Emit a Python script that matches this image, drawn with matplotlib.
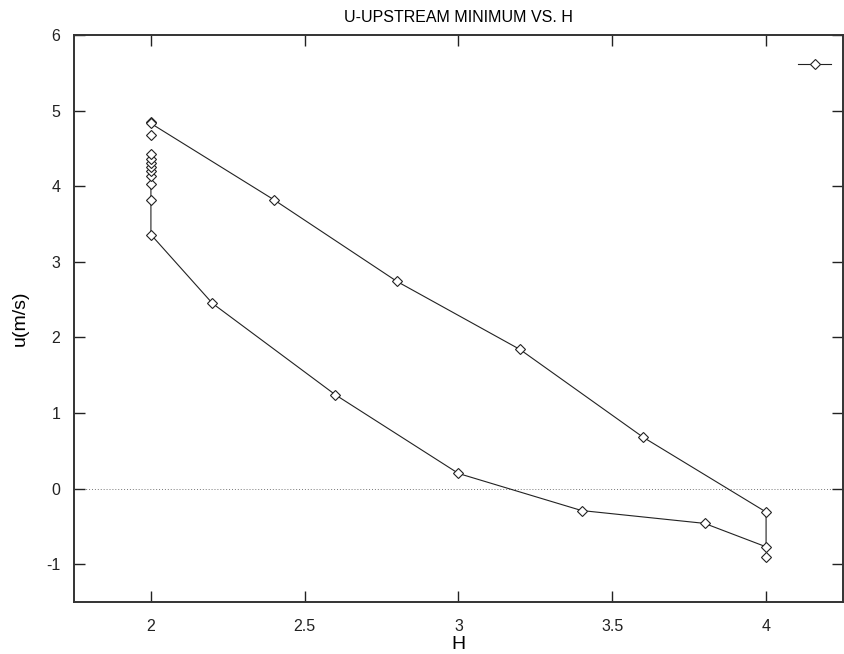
import numpy as np
import matplotlib
matplotlib.use("Agg")
import matplotlib.pyplot as plt
from matplotlib.lines import Line2D

plt.rcParams['font.family'] = ['Liberation Sans', 'DejaVu Sans']
plt.rcParams['axes.unicode_minus'] = False

# hysteresis loop: upper branch (H rising -> falling), then lower branch back up to H=2
loop_h = [2.0, 2.0, 2.4, 2.8, 3.2, 3.6, 4.0, 4.0,
          3.8, 3.4, 3.0, 2.6, 2.2, 2.0,
          2.0, 2.0, 2.0, 2.0, 2.0, 2.0, 2.0, 2.0]
loop_u = [4.85, 4.83, 3.82, 2.74, 1.84, 0.68, -0.31, -0.77,
          -0.46, -0.29, 0.20, 1.24, 2.45, 3.36,
          3.82, 4.03, 4.14, 4.20, 4.26, 4.31, 4.36, 4.42]

# points without a connecting segment
lone_h = [2.0, 4.0]
lone_u = [4.68, -0.90]

title = "U-UPSTREAM MINIMUM VS. H"
x_ticks = [2, 2.5, 3, 3.5, 4]
y_ticks = [-1, 0, 1, 2, 3, 4, 5, 6]

fig = plt.figure(figsize=(8.45, 6.54), dpi=100)
ax = fig.add_axes([0.0876, 0.0795, 0.9100, 0.867])

line_kw = dict(color="#222222", lw=0.8, marker="D", markersize=5.5,
               markerfacecolor="white", markeredgecolor="#222222", markeredgewidth=0.8)

ax.axhline(0, color="#777777", lw=0.7, ls=(0, (1, 2)), zorder=1)
ax.plot(loop_h, loop_u, **line_kw, zorder=3)
ax.plot(lone_h, lone_u, ls="none", **{k: v for k, v in line_kw.items() if k != "lw"}, zorder=3)

ax.set_xlim(1.75, 4.25)
ax.set_ylim(-1.5, 6)
ax.set_xticks(x_ticks)
ax.set_xticklabels(["2", "2.5", "3", "3.5", "4"])
ax.set_yticks(y_ticks)

ax.tick_params(direction="in", length=8, width=1.0, top=True, right=True,
               labelsize=11.5, pad=12, colors="#222222")
ax.tick_params(axis="y", pad=10)
for s in ax.spines.values():
    s.set_linewidth(1.4)
    s.set_color("#333333")

ax.set_title(title, fontsize=11.5, pad=9)
ax.set_xlabel("H", fontsize=14, labelpad=2)
ax.set_ylabel("u(m/s)", fontsize=14, labelpad=12)

sample = Line2D([], [], **line_kw)
ax.legend([sample], [""], loc="upper right", frameon=False, handlelength=2.4,
          borderaxespad=0.6, handletextpad=0.0, bbox_to_anchor=(1.003, 0.985))

fig.savefig("out.png", dpi=100)
